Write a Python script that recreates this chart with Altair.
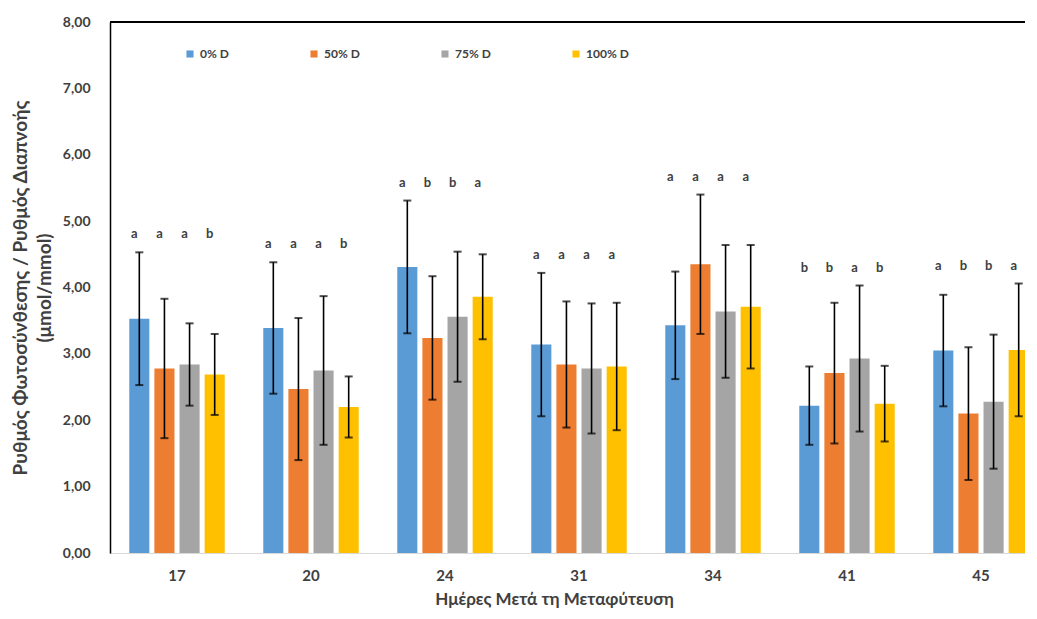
import altair as alt
import pandas as pd

days = ["17", "20", "24", "31", "34", "41", "45"]
series = ["0% D", "50% D", "75% D", "100% D"]
colors = ["#5B9BD5", "#ED7D31", "#A5A5A5", "#FFC000"]

mean_0 = [3.53, 3.39, 4.31, 3.14, 3.43, 2.22, 3.05]
mean_50 = [2.78, 2.47, 3.24, 2.84, 4.35, 2.71, 2.10]
mean_75 = [2.84, 2.75, 3.56, 2.78, 3.64, 2.93, 2.28]
mean_100 = [2.69, 2.20, 3.86, 2.81, 3.71, 2.25, 3.06]

sd_0 = [1.00, 0.99, 1.00, 1.08, 0.81, 0.59, 0.84]
sd_50 = [1.05, 1.07, 0.93, 0.95, 1.05, 1.06, 1.00]
sd_75 = [0.62, 1.12, 0.98, 0.98, 1.00, 1.10, 1.01]
sd_100 = [0.61, 0.46, 0.64, 0.96, 0.93, 0.57, 1.00]

let_0 = ["a", "a", "a", "a", "a", "b", "a"]
let_50 = ["a", "a", "b", "a", "a", "b", "b"]
let_75 = ["a", "a", "b", "a", "a", "a", "b"]
let_100 = ["b", "b", "a", "a", "a", "b", "a"]

means = [mean_0, mean_50, mean_75, mean_100]
sds = [sd_0, sd_50, sd_75, sd_100]
lets = [let_0, let_50, let_75, let_100]

rows = []
for s, m, sd, lt in zip(series, means, sds, lets):
    for d, mv, sv, l in zip(days, m, sd, lt):
        rows.append({"day": d, "series": s, "mean": mv, "sd": sv, "letter": l})
df = pd.DataFrame(rows)

FONT = "Lato"
TXT = "#404040"

base = alt.Chart(df).transform_calculate(
    lo="datum.mean - datum.sd", hi="datum.mean + datum.sd"
).encode(
    x=alt.X("day:N", sort=days,
            scale=alt.Scale(paddingInner=0.25, paddingOuter=0.125, range=[0, 938]),
            axis=alt.Axis(title="Ημέρες Μετά τη Μεταφύτευση", labelAngle=0,
                          labelFontSize=15, labelFontWeight="bold", labelColor=TXT,
                          labelPadding=15, ticks=False, domainColor="#D9D9D9",
                          titleFontSize=17, titleFontWeight="bold", titleColor=TXT,
                          titlePadding=8, titleX=444, titleAlign="center",
                          labelFont=FONT, titleFont=FONT)),
    xOffset=alt.XOffset("series:N", sort=series,
                        scale=alt.Scale(paddingInner=0.2, paddingOuter=0.1)),
)

ysc = alt.Scale(domain=[0, 8], nice=False)

bars = base.mark_bar().encode(
    y=alt.Y("mean:Q", scale=ysc,
            axis=alt.Axis(title=["Ρυθμός Φωτοσύνθεσης / Ρυθμός Διαπνοής", "(μmol/mmol)"],
                          values=[0, 1, 2, 3, 4, 5, 6, 7, 8],
                          labelExpr="replace(format(datum.value, '.2f'), '.', ',')",
                          grid=False, ticks=False, domainColor="black", domainWidth=1.5,
                          labelFontSize=14, labelFontWeight="bold", labelColor=TXT,
                          labelPadding=20, titleFontSize=19, titleFontWeight="bold",
                          titleColor=TXT, titlePadding=8, titleLineHeight=24,
                          labelFont=FONT, titleFont=FONT)),
    color=alt.Color("series:N", sort=series,
                    scale=alt.Scale(domain=series, range=colors),
                    legend=alt.Legend(title=None, orient="none", legendX=74, legendY=26,
                                      direction="horizontal", symbolType="square",
                                      symbolSize=50, symbolStrokeWidth=0,
                                      labelFontSize=12, labelFontWeight="bold",
                                      labelColor=TXT, columnPadding=79, labelFont=FONT)),
)

rules = base.mark_rule(color="black", strokeWidth=1.6).encode(
    y=alt.Y("lo:Q", scale=ysc), y2="hi:Q"
)
cap_lo = base.mark_tick(color="black", thickness=2, size=8).encode(y=alt.Y("lo:Q", scale=ysc))
cap_hi = base.mark_tick(color="black", thickness=2, size=8).encode(y=alt.Y("hi:Q", scale=ysc))

letters = base.transform_joinaggregate(
    gmax="max(hi)", groupby=["day"]
).transform_calculate(
    ly="datum.gmax + 0.27"
).mark_text(fontSize=13, fontWeight="bold", color=TXT, dx=-5, baseline="middle",
            font=FONT).encode(
    y=alt.Y("ly:Q", scale=ysc), text="letter:N"
)

top_line = alt.Chart(df).mark_rule(color="black", strokeWidth=1.5).encode(
    y=alt.datum(8, scale=ysc)
)

chart = alt.layer(bars, rules, cap_lo, cap_hi, letters, top_line).properties(
    width=915, height=531,
    autosize=alt.AutoSizeParams(type="none"),
    padding={"left": 102, "top": 14, "right": 0, "bottom": 58},
).configure_view(stroke=None).configure(background="white")

chart.save("out.html", embed_options={"renderer": "svg", "actions": False})
